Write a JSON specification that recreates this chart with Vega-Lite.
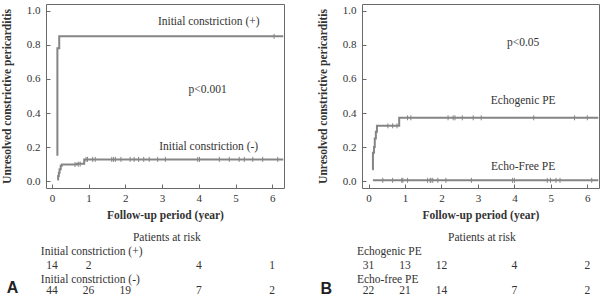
{
  "$schema": "https://vega.github.io/schema/vega-lite/v6.json",
  "padding": {"left": 0, "top": 3, "right": 0, "bottom": 0},
  "background": "white",
  "spacing": 28,
  "config": {
    "view": {"stroke": "#6a6a6a", "strokeWidth": 1},
    "font": "Liberation Serif, DejaVu Serif, serif",
    "axis": {
      "grid": false, "domain": false, "tickSize": -4, "tickColor": "#6a6a6a",
      "labelFont": "Liberation Serif, DejaVu Serif, serif", "labelFontSize": 11, "labelColor": "#333",
      "titleFont": "Liberation Serif, DejaVu Serif, serif", "titleFontSize": 11.5, "titleFontWeight": "bold", "titleColor": "#333"
    },
    "text": {"font": "Liberation Serif, DejaVu Serif, serif", "fontSize": 11.5, "color": "#333"}
  },
  "datasets": {
    "curvesA": [
      {"grp": "pos", "i": 1, "t": 0.15, "s": 0.15},
      {"grp": "pos", "i": 2, "t": 0.15, "s": 0.78},
      {"grp": "pos", "i": 3, "t": 0.2, "s": 0.85},
      {"grp": "pos", "i": 4, "t": 6.3, "s": 0.85},
      {"grp": "neg", "i": 1, "t": 0.15, "s": 0.01},
      {"grp": "neg", "i": 2, "t": 0.17, "s": 0.03},
      {"grp": "neg", "i": 3, "t": 0.19, "s": 0.05},
      {"grp": "neg", "i": 4, "t": 0.21, "s": 0.07},
      {"grp": "neg", "i": 5, "t": 0.24, "s": 0.09},
      {"grp": "neg", "i": 6, "t": 0.27, "s": 0.098},
      {"grp": "neg", "i": 7, "t": 0.68, "s": 0.103},
      {"grp": "neg", "i": 8, "t": 0.88, "s": 0.128},
      {"grp": "neg", "i": 9, "t": 6.3, "s": 0.128}
    ],
    "censorA": [
      {"t": 6.05, "s": 0.85},
      {"t": 0.63, "s": 0.098}, {"t": 0.72, "s": 0.1}, {"t": 0.77, "s": 0.1},
      {"t": 0.93, "s": 0.128}, {"t": 0.97, "s": 0.128}, {"t": 1.11, "s": 0.128}, {"t": 1.18, "s": 0.128},
      {"t": 1.63, "s": 0.128}, {"t": 1.68, "s": 0.128}, {"t": 1.73, "s": 0.128}, {"t": 1.88, "s": 0.128},
      {"t": 2.13, "s": 0.128}, {"t": 2.24, "s": 0.128}, {"t": 2.36, "s": 0.128}, {"t": 2.5, "s": 0.128},
      {"t": 2.65, "s": 0.128}, {"t": 2.88, "s": 0.128}, {"t": 3.09, "s": 0.128}, {"t": 3.97, "s": 0.128},
      {"t": 4.02, "s": 0.128}, {"t": 4.56, "s": 0.128}, {"t": 4.83, "s": 0.128}, {"t": 5.1, "s": 0.128},
      {"t": 5.24, "s": 0.128}, {"t": 5.47, "s": 0.128}, {"t": 5.74, "s": 0.128}, {"t": 6.15, "s": 0.128}
    ],
    "labelsA": [
      {"t": 4.27, "s": 0.933, "txt": "Initial constriction (+)"},
      {"t": 4.24, "s": 0.536, "txt": "p<0.001"},
      {"t": 4.27, "s": 0.203, "txt": "Initial constriction (-)"}
    ],
    "riskA": [
      {"t": 3.13, "s": -0.335, "txt": "Patients at risk"},
      {"t": 0, "s": -0.5, "txt": "14"}, {"t": 1, "s": -0.5, "txt": "2"}, {"t": 4, "s": -0.5, "txt": "4"}, {"t": 6, "s": -0.5, "txt": "1"},
      {"t": 0, "s": -0.645, "txt": "44"}, {"t": 1, "s": -0.645, "txt": "26"}, {"t": 2, "s": -0.645, "txt": "19"}, {"t": 4, "s": -0.645, "txt": "7"}, {"t": 6, "s": -0.645, "txt": "2"}
    ],
    "groupsA": [
      {"t": -0.3, "s": -0.417, "txt": "Initial constriction (+)"},
      {"t": -0.3, "s": -0.578, "txt": "Initial constriction (-)"}
    ],
    "panelA": [{"t": -1.07, "s": -0.625, "txt": "A"}],
    "curvesB": [
      {"grp": "echo", "i": 1, "t": 0.1, "s": 0.07},
      {"grp": "echo", "i": 2, "t": 0.12, "s": 0.167},
      {"grp": "echo", "i": 3, "t": 0.15, "s": 0.2},
      {"grp": "echo", "i": 4, "t": 0.17, "s": 0.25},
      {"grp": "echo", "i": 5, "t": 0.2, "s": 0.29},
      {"grp": "echo", "i": 6, "t": 0.23, "s": 0.325},
      {"grp": "echo", "i": 7, "t": 0.84, "s": 0.372},
      {"grp": "echo", "i": 8, "t": 6.3, "s": 0.372},
      {"grp": "free", "i": 1, "t": 0.12, "s": 0.005},
      {"grp": "free", "i": 2, "t": 6.3, "s": 0.005}
    ],
    "censorB": [
      {"t": 0.53, "s": 0.325}, {"t": 0.66, "s": 0.325}, {"t": 0.78, "s": 0.325},
      {"t": 1.07, "s": 0.372}, {"t": 1.16, "s": 0.372}, {"t": 2.18, "s": 0.372}, {"t": 2.32, "s": 0.372},
      {"t": 2.37, "s": 0.372}, {"t": 2.57, "s": 0.372}, {"t": 2.87, "s": 0.372}, {"t": 3.09, "s": 0.372},
      {"t": 4.53, "s": 0.372}, {"t": 5.65, "s": 0.372}, {"t": 6.0, "s": 0.372},
      {"t": 0.39, "s": 0.005}, {"t": 0.66, "s": 0.005}, {"t": 0.91, "s": 0.005}, {"t": 0.94, "s": 0.005},
      {"t": 1.07, "s": 0.005}, {"t": 1.62, "s": 0.005}, {"t": 1.69, "s": 0.005}, {"t": 1.71, "s": 0.005},
      {"t": 1.76, "s": 0.005}, {"t": 1.9, "s": 0.005}, {"t": 2.12, "s": 0.005}, {"t": 2.82, "s": 0.005},
      {"t": 3.95, "s": 0.005}, {"t": 4.0, "s": 0.005}, {"t": 4.9, "s": 0.005}, {"t": 4.99, "s": 0.005},
      {"t": 5.14, "s": 0.005}, {"t": 5.25, "s": 0.005}, {"t": 6.12, "s": 0.005}
    ],
    "labelsB": [
      {"t": 4.24, "s": 0.811, "txt": "p<0.05"},
      {"t": 4.24, "s": 0.4725, "txt": "Echogenic PE"},
      {"t": 4.24, "s": 0.085, "txt": "Echo-Free PE"}
    ],
    "riskB": [
      {"t": 3.11, "s": -0.335, "txt": "Patients at risk"},
      {"t": 0, "s": -0.5, "txt": "31"}, {"t": 1, "s": -0.5, "txt": "13"}, {"t": 2, "s": -0.5, "txt": "12"}, {"t": 4, "s": -0.5, "txt": "4"}, {"t": 6, "s": -0.5, "txt": "2"},
      {"t": 0, "s": -0.645, "txt": "22"}, {"t": 1, "s": -0.645, "txt": "21"}, {"t": 2, "s": -0.645, "txt": "14"}, {"t": 4, "s": -0.645, "txt": "7"}, {"t": 6, "s": -0.645, "txt": "2"}
    ],
    "groupsB": [
      {"t": -0.32, "s": -0.417, "txt": "Echogenic PE"},
      {"t": -0.32, "s": -0.578, "txt": "Echo-free PE"}
    ],
    "panelB": [{"t": -1.16, "s": -0.632, "txt": "B"}]
  },
  "hconcat": [
    {
      "width": 238,
      "height": 184,
      "encoding": {
        "x": {"field": "t", "type": "quantitative",
              "scale": {"domain": [-0.16, 6.32], "nice": false, "zero": false},
              "axis": {"values": [0, 1, 2, 3, 4, 5, 6], "format": "d", "labelPadding": 8, "title": "Follow-up period (year)", "titlePadding": 6}},
        "y": {"field": "s", "type": "quantitative",
              "scale": {"domain": [-0.04, 1.04], "nice": false, "zero": false},
              "axis": {"values": [0, 0.2, 0.4, 0.6, 0.8, 1.0], "format": ".1f", "labelPadding": 10, "title": "Unresolved constrictive pericarditis", "titlePadding": 14}}
      },
      "layer": [
        {"data": {"name": "curvesA"}, "mark": {"type": "line", "interpolate": "step-after", "color": "#858585", "strokeWidth": 2},
         "encoding": {"detail": {"field": "grp"}, "order": {"field": "i", "type": "quantitative"}}},
        {"data": {"name": "censorA"}, "mark": {"type": "point", "shape": "M0,-1V1", "size": 25, "filled": false, "color": "#858585", "strokeWidth": 1, "opacity": 1}},
        {"data": {"name": "labelsA"}, "mark": {"type": "text", "align": "center", "baseline": "middle"}, "encoding": {"text": {"field": "txt"}}},
        {"data": {"name": "riskA"}, "mark": {"type": "text", "align": "center", "baseline": "middle"}, "encoding": {"text": {"field": "txt"}}},
        {"data": {"name": "groupsA"}, "mark": {"type": "text", "align": "left", "baseline": "middle"}, "encoding": {"text": {"field": "txt"}}},
        {"data": {"name": "panelA"}, "mark": {"type": "text", "align": "center", "baseline": "middle", "font": "Liberation Sans", "fontWeight": "bold", "fontSize": 16, "color": "#222"}, "encoding": {"text": {"field": "txt"}}}
      ]
    },
    {
      "width": 237,
      "height": 184,
      "encoding": {
        "x": {"field": "t", "type": "quantitative",
              "scale": {"domain": [-0.18, 6.32], "nice": false, "zero": false},
              "axis": {"values": [0, 1, 2, 3, 4, 5, 6], "format": "d", "labelPadding": 8, "title": "Follow-up period (year)", "titlePadding": 6}},
        "y": {"field": "s", "type": "quantitative",
              "scale": {"domain": [-0.04, 1.04], "nice": false, "zero": false},
              "axis": {"values": [0, 0.2, 0.4, 0.6, 0.8, 1.0], "format": ".1f", "labelPadding": 10, "title": "Unresolved constrictive pericarditis", "titlePadding": 14}}
      },
      "layer": [
        {"data": {"name": "curvesB"}, "mark": {"type": "line", "interpolate": "step-after", "color": "#858585", "strokeWidth": 2},
         "encoding": {"detail": {"field": "grp"}, "order": {"field": "i", "type": "quantitative"}}},
        {"data": {"name": "censorB"}, "mark": {"type": "point", "shape": "M0,-1V1", "size": 25, "filled": false, "color": "#858585", "strokeWidth": 1, "opacity": 1}},
        {"data": {"name": "labelsB"}, "mark": {"type": "text", "align": "center", "baseline": "middle"}, "encoding": {"text": {"field": "txt"}}},
        {"data": {"name": "riskB"}, "mark": {"type": "text", "align": "center", "baseline": "middle"}, "encoding": {"text": {"field": "txt"}}},
        {"data": {"name": "groupsB"}, "mark": {"type": "text", "align": "left", "baseline": "middle"}, "encoding": {"text": {"field": "txt"}}},
        {"data": {"name": "panelB"}, "mark": {"type": "text", "align": "center", "baseline": "middle", "font": "Liberation Sans", "fontWeight": "bold", "fontSize": 16, "color": "#222"}, "encoding": {"text": {"field": "txt"}}}
      ]
    }
  ]
}
